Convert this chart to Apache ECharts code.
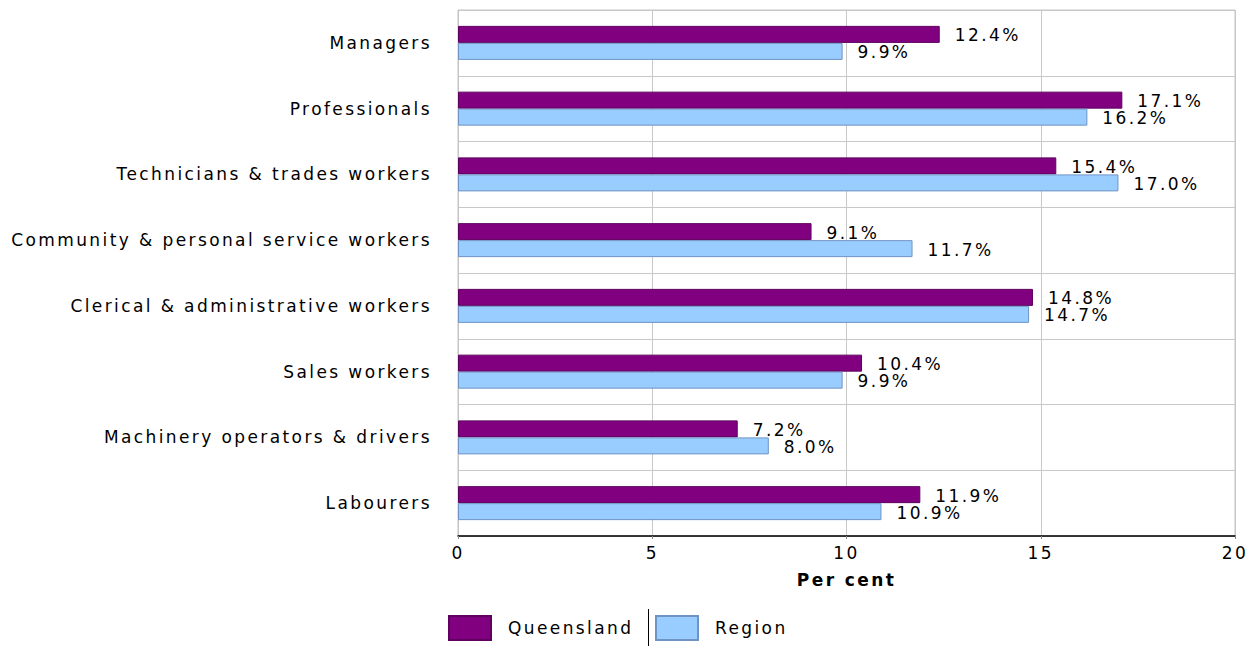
<!DOCTYPE html>
<html>
<head>
<meta charset="utf-8">
<script src="https://cdn.jsdelivr.net/npm/echarts@6/dist/echarts.min.js"></script>
<style>
html,body{margin:0;padding:0;background:#fff;}
#chart{width:1255px;height:646px;}
#chart text{letter-spacing:2.4px;}
</style>
</head>
<body>
<div id="chart"></div>
<script>
const categories = [
  'Managers',
  'Professionals',
  'Technicians & trades workers',
  'Community & personal service workers',
  'Clerical & administrative workers',
  'Sales workers',
  'Machinery operators & drivers',
  'Labourers'
];
const queensland = [12.4, 17.1, 15.4, 9.1, 14.8, 10.4, 7.2, 11.9];
const region = [9.9, 16.2, 17.0, 11.7, 14.7, 9.9, 8.0, 10.9];
const xTicks = { min: 0, max: 20, interval: 5 };
const seriesNames = ['Queensland', 'Region'];

const FONT = 'DejaVu Sans';
const FS = 17;
const chart = echarts.init(document.getElementById('chart'), null, { renderer: 'svg' });

const labelCfg = {
  show: true,
  position: 'right',
  distance: 15,
  offset: [0, 1],
  color: '#000',
  fontFamily: FONT,
  fontSize: FS,
  formatter: p => p.value.toFixed(1) + '%'
};

const legendBase = {
  top: 610,
  itemWidth: 42, itemHeight: 24,
  icon: 'rect',
  textStyle: { color: '#000', fontFamily: FONT, fontSize: FS, padding: [0, 0, 0, 12] }
};

chart.setOption({
  animation: false,
  backgroundColor: '#fff',
  textStyle: { fontFamily: FONT },
  grid: {
    left: 458, right: 20, top: 10, bottom: 110,
    show: true, borderColor: '#c4c4c4', borderWidth: 1
  },
  xAxis: {
    type: 'value',
    min: xTicks.min, max: xTicks.max, interval: xTicks.interval,
    name: 'Per cent',
    nameLocation: 'middle',
    nameGap: 35,
    nameTextStyle: { color: '#000', fontFamily: FONT, fontSize: FS, fontWeight: 'bold' },
    axisLine: { show: true, lineStyle: { color: '#000', width: 1.5 } },
    axisTick: { show: true, length: 3, lineStyle: { color: '#888' } },
    axisLabel: { color: '#000', fontFamily: FONT, fontSize: FS, margin: 8 },
    splitLine: { show: true, lineStyle: { color: '#c8c8c8', width: 1 } }
  },
  yAxis: {
    type: 'category',
    data: categories,
    inverse: true,
    axisLine: { show: true, lineStyle: { color: '#c4c4c4' } },
    axisTick: { show: false },
    axisLabel: { color: '#000', fontFamily: FONT, fontSize: FS, margin: 26 },
    splitLine: { show: true, lineStyle: { color: '#c8c8c8', width: 1 } }
  },
  legend: [
    Object.assign({}, legendBase, { left: 443, data: [seriesNames[0]] }),
    Object.assign({}, legendBase, { left: 650, data: [seriesNames[1]] })
  ],
  graphic: [{
    type: 'line',
    shape: { x1: 648.5, y1: 609, x2: 648.5, y2: 646 },
    style: { stroke: '#000', lineWidth: 1 }
  }],
  series: [
    {
      name: seriesNames[0], type: 'bar', data: queensland,
      barWidth: 17, barGap: '0%',
      itemStyle: { color: '#800080', borderColor: '#5e005e', borderWidth: 1 },
      label: labelCfg
    },
    {
      name: seriesNames[1], type: 'bar', data: region,
      barWidth: 17, barGap: '0%',
      itemStyle: { color: '#99ccff', borderColor: '#6f94c4', borderWidth: 1 },
      label: labelCfg
    }
  ]
});
</script>
</body>
</html>
